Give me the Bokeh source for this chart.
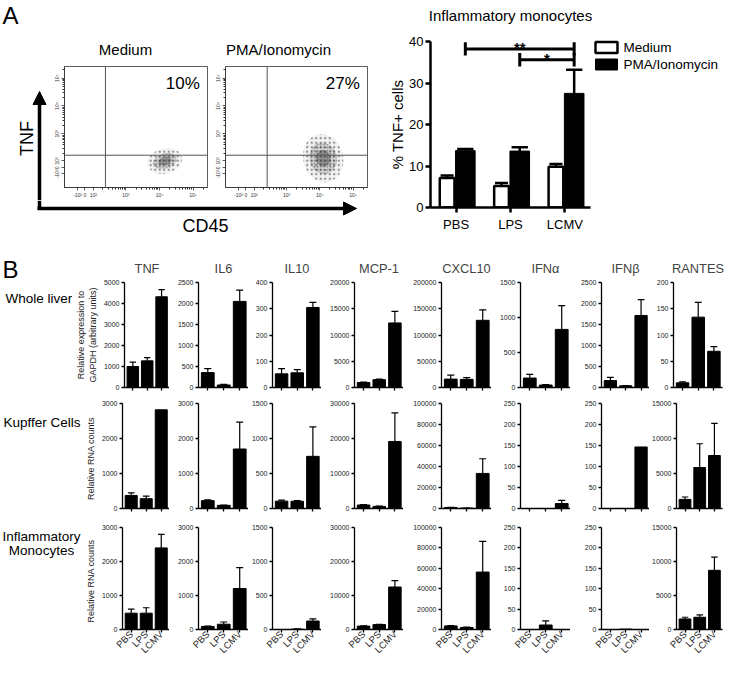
import math
from bokeh.plotting import figure
from bokeh.layouts import row, column
from bokeh.models import (Range1d, FixedTicker, Arrow, NormalHead, Span,
                          PrintfTickFormatter)
from bokeh.core.properties import value
from bokeh.embed import file_html
from bokeh.resources import INLINE

FONT = "Liberation Sans"
SX = 724 / 740
SY = 661 / 677


def X(v):
    return int(round(v * SX))


def Y(v):
    return int(round(v * SY))


# ------------------------------------------------------------------ data
groups = ["PBS", "LPS", "LCMV"]

# Panel A : % TNF+ inflammatory monocytes
a_title = "Inflammatory monocytes"
a_series = ["Medium", "PMA/Ionomycin"]
a_medium = [7.1, 5.2, 9.8]
a_medium_err = [7.7, 5.9, 10.5]
a_pma = [13.7, 13.6, 27.5]
a_pma_err = [14.1, 14.5, 33.2]
a_ticks = [0, 10, 20, 30, 40]

sig_text = ["**", "*"]
sig_from = [0, 1]
sig_to = [2, 2]
sig_level = [38.2, 35.6]

# Panel A : flow cytometry dot plots (display units, decades)
flow_titles = ["Medium", "PMA/Ionomycin"]
flow_pct = ["10%", "27%"]
flow_gate_x = [2.39, 2.42]
flow_gate_y = [2.23, 2.23]
flow_tick_pos = [1.56, 1.78, 2.03, 3, 4, 5]
flow_tick_labels = ["-10²", "0", "10²", "10³", "10⁴", "10⁵"]
cloud_x = [4.16, 4.10]
cloud_y = [2.02, 2.12]
cloud_w = [[1.05, 0.72, 0.40], [1.20, 0.82, 0.45]]
cloud_h = [[0.90, 0.55, 0.30], [1.75, 1.15, 0.60]]

# Panel B : cytokine expression
cytokines = ["TNF", "IL6", "IL10", "MCP-1", "CXCL10", "IFNα", "IFNβ", "RANTES"]
row_names = ["Whole liver", "Kupffer Cells", "Inflammatory Monocytes"]

liver_ymax = [5000, 2500, 400, 20000, 200000, 1500, 2500, 200]
liver_ystep = [1000, 500, 100, 5000, 50000, 500, 500, 50]
cells_ymax = [3000, 3000, 1500, 30000, 100000, 250, 250, 15000]
cells_ystep = [1000, 1000, 500, 10000, 20000, 50, 50, 5000]

liver_mean = [[1000, 1270, 4320], [355, 60, 2050], [52, 56, 305],
              [950, 1500, 12300], [16000, 15500, 128000], [135, 35, 830],
              [165, 40, 1715], [9, 134, 69]]
liver_err = [[1210, 1420, 4660], [450, 75, 2320], [72, 68, 324],
             [1050, 1600, 14500], [23500, 19000, 148000], [188, 40, 1170],
             [240, 45, 2090], [11, 162, 78]]

kupffer_mean = [[373, 280, 2820], [225, 90, 1700], [105, 103, 745],
                [1000, 600, 19150], [900, 400, 33400], [0, 0, 11.7],
                [0, 0, 146.5], [1300, 5850, 7570]]
kupffer_err = [[445, 355, None], [245, 100, 2470], [120, 113, 1165],
               [1100, 700, 27300], [1000, 500, 47400], [None, None, 19.4],
               [None, None, None], [1640, 9250, 12150]]

mono_mean = [[480, 480, 2400], [90, 155, 1205], [0, 5, 125],
             [1000, 1450, 12500], [3500, 2000, 56300], [0, 11, 0],
             [0, 1, 0], [1550, 1800, 8700]]
mono_err = [[600, 640, 2800], [100, 220, 1820], [None, 8, 155],
            [1100, 1550, 14400], [3800, 2300, 86300], [None, 21, None],
            [None, None, None], [1800, 2150, 10650]]

# ------------------------------------------------------------------ layout (reference px)
col_axis = [123, 202, 278, 362, 451, 532, 614, 688]
col_end = [173, 253, 328, 412, 502, 583, 663, 738]
row_top = [240, 404, 526]
row_ftop = [289, 413, 540]
row_fbot = [396, 520, 648]
row_bottom = [404, 526, 677]
label_w = [74, 84, 84]


def text_fig(left, right, top, bottom):
    w = X(right) - X(left)
    h = Y(bottom) - Y(top)
    p = figure(width=w, height=h, x_range=Range1d(0, w), y_range=Range1d(h, 0),
               x_axis_type=None, y_axis_type=None, min_border=0, title=None,
               frame_align=False, toolbar_location=None, output_backend="svg")
    p.grid.visible = False
    p.outline_line_color = None
    return p, (lambda xr: X(xr) - X(left)), (lambda yr: Y(yr) - Y(top))


def put_text(p, x, y, txt, size, align="left", baseline="middle", angle=0.0):
    p.text(x=[x], y=[y], text=[txt], text_font=value(FONT), text_font_size=size,
           text_align=align, text_baseline=baseline, angle=angle, text_color="black")


def style_axis(ax, lw, tick_out, size, color="black", label_color="#222"):
    ax.axis_line_width = lw
    ax.axis_line_color = color
    ax.major_tick_line_width = lw
    ax.major_tick_line_color = color
    ax.major_tick_out = tick_out
    ax.major_tick_in = 0
    ax.minor_tick_line_color = None
    ax.major_label_text_font = FONT
    ax.major_label_text_font_size = size
    ax.major_label_text_color = label_color
    ax.axis_label_text_font = FONT
    ax.axis_label_text_font_style = "normal"
    ax.axis_label_text_color = "#222"


# ------------------------------------------------------------------ panel A, left part
topfig, tx, ty = text_fig(0, 390, 0, 60)
put_text(topfig, tx(2), ty(1), "A", "24px", baseline="top")
put_text(topfig, tx(128), ty(50), flow_titles[0], "15px", align="center")
put_text(topfig, tx(284), ty(50), flow_titles[1], "15px", align="center")

leftfig, lx, ly = text_fig(0, 50, 60, 205)
put_text(leftfig, lx(27), ly(141), "TNF", "18px", align="center", angle=math.pi / 2)
leftfig.add_layout(Arrow(end=NormalHead(size=13, fill_color="black", line_color="black"),
                         x_start=lx(39.5), y_start=ly(206), x_end=lx(39.5), y_end=ly(93),
                         line_width=3.5, line_color="black"))

cdfig, cx, cy = text_fig(0, 390, 205, 240)
cdfig.segment(x0=[cx(39.5)], y0=[cy(205)], x1=[cx(39.5)], y1=[cy(214.5)],
              line_width=3.5, line_color="black")
cdfig.add_layout(Arrow(end=NormalHead(size=13, fill_color="black", line_color="black"),
                       x_start=cx(37.8), y_start=cy(212.8), x_end=cx(364), y_end=cy(212.8),
                       line_width=3.5, line_color="black"))
put_text(cdfig, cx(210), cy(230), "CD45", "18px", align="center")

flow_minor = [d + math.log10(k) for d in (2, 3, 4) for k in range(2, 10)] + [5.3]


def flow_fig(k, left, a_left, a_right, right):
    bl = X(a_left) - X(left)
    fw = X(a_right) - X(a_left)
    br = X(right) - X(a_right)
    bt = Y(68) - Y(60)
    fh = Y(192) - Y(68)
    bb = Y(205) - Y(192)
    p = figure(width=bl + fw + br, height=bt + fh + bb,
               x_range=Range1d(1.17, 5.43), y_range=Range1d(1.07, 5.42),
               min_border_left=bl, min_border_right=br, min_border_top=bt,
               min_border_bottom=bb, title=None, frame_align=False,
               toolbar_location=None, output_backend="svg")
    p.grid.visible = False
    p.outline_line_color = "#333"
    p.outline_line_width = 0.8
    alphas = [0.06, 0.14, 0.30]
    scales = [4.5, 3.2, 2.4]
    for j in range(3):
        p.ellipse(x=[cloud_x[k]], y=[cloud_y[k]], width=[cloud_w[k][j]],
                  height=[cloud_h[k][j]], angle=0.25, fill_color="#1a1a1a",
                  fill_alpha=alphas[j], line_color=None,
                  hatch_pattern="dot", hatch_scale=scales[j], hatch_weight=0.7,
                  hatch_color="#222", hatch_alpha=0.5)
    p.add_layout(Span(location=flow_gate_y[k], dimension="width",
                      line_color="#555", line_width=1))
    p.add_layout(Span(location=flow_gate_x[k], dimension="height",
                      line_color="#555", line_width=1))
    put_text(p, 5.2, 4.82, flow_pct[k], "17px", align="right")
    for ax in (p.xaxis[0], p.yaxis[0]):
        ax.ticker = FixedTicker(ticks=flow_tick_pos, minor_ticks=flow_minor)
        ax.major_label_overrides = {t: l for t, l in zip(flow_tick_pos, flow_tick_labels)}
        style_axis(ax, 0.8, 3, "5px", color="#333", label_color="#333")
        ax.minor_tick_line_color = "#333"
        ax.minor_tick_out = 2
        ax.minor_tick_in = 0
        ax.major_label_standoff = 1
    p.yaxis.major_label_orientation = "vertical"
    return p


flow1 = flow_fig(0, 50, 65, 212, 215)
flow2 = flow_fig(1, 215, 230, 375, 390)

# ------------------------------------------------------------------ panel A, bar chart
patitle, px_, py_ = text_fig(390, 606, 0, 30)
put_text(patitle, px_(521.5), py_(15), a_title, "15px", align="center")

pa = figure(width=X(606) - X(390), height=Y(240) - Y(30),
            x_range=Range1d(-0.47, 2.47), y_range=Range1d(0, 40),
            min_border_left=X(440) - X(390), min_border_right=X(606) - X(603),
            min_border_top=Y(42) - Y(30), min_border_bottom=Y(240) - Y(213),
            title=None, frame_align=False,
            toolbar_location=None, output_backend="svg")
pa.grid.visible = False
pa.outline_line_color = None

xm = [i - 0.165 for i in range(len(groups))]
xp = [i + 0.17 for i in range(len(groups))]
pa.vbar(x=xm, top=a_medium, width=0.27, fill_color="white",
        line_color="black", line_width=2.5)
pa.vbar(x=xp, top=a_pma, width=0.36, fill_color="black",
        line_color="black", line_width=1)
pa.segment(x0=xm, y0=a_medium, x1=xm, y1=a_medium_err, line_width=2.5, line_color="black")
pa.segment(x0=[x - 0.12 for x in xm], y0=a_medium_err, x1=[x + 0.12 for x in xm],
           y1=a_medium_err, line_width=2.5, line_color="black")
pa.segment(x0=xp, y0=a_pma, x1=xp, y1=a_pma_err, line_width=2.5, line_color="black")
pa.segment(x0=[x - 0.15 for x in xp], y0=a_pma_err, x1=[x + 0.15 for x in xp],
           y1=a_pma_err, line_width=2.5, line_color="black")

bx0 = [xp[i] for i in sig_from]
bx1 = [xp[i] for i in sig_to]
pa.segment(x0=bx0, y0=sig_level, x1=bx1, y1=sig_level, line_width=3, line_color="black")
pa.segment(x0=bx0, y0=[s - 1.6 for s in sig_level], x1=bx0, y1=[s + 1.6 for s in sig_level],
           line_width=3, line_color="black")
pa.segment(x0=bx1, y0=[s - 1.6 for s in sig_level], x1=bx1, y1=[s + 1.6 for s in sig_level],
           line_width=3, line_color="black")
pa.text(x=[(a + b) / 2 for a, b in zip(bx0, bx1)], y=[s + 0.4 for s in sig_level],
        text=sig_text, text_font=value(FONT), text_font_size="15px",
        text_font_style="bold", text_align="center", text_baseline="alphabetic",
        text_color="black")

for ax in (pa.xaxis[0], pa.yaxis[0]):
    style_axis(ax, 2.5, 5, "13px", label_color="black")
pa.yaxis.ticker = FixedTicker(ticks=a_ticks)
pa.xaxis.ticker = FixedTicker(ticks=[0, 1, 2])
pa.xaxis.major_label_overrides = {i: g for i, g in enumerate(groups)}
pa.xaxis.major_label_standoff = 4
pa.yaxis.major_label_standoff = 2
pa.yaxis.axis_label = "% TNF+ cells"
pa.yaxis.axis_label_text_font_size = "15px"
pa.yaxis.axis_label_standoff = 0
pa.yaxis.axis_label_text_color = "black"

# legend drawn as its own small panel
legfig, gx, gy = text_fig(606, 740, 0, 240)
legfig.rect(x=[gx(619), gx(619)], y=[gy(48.5), gy(65.5)], width=X(22), height=Y(11),
            fill_color=["white", "black"], line_color="black", line_width=[2.5, 1])
for k in range(2):
    put_text(legfig, gx(637), gy(48.5 + 17 * k), a_series[k], "13.5px")

bandA = row(column(topfig, row(leftfig, flow1, flow2), cdfig),
            column(patitle, pa), legfig)

# ------------------------------------------------------------------ panel B
means_all = [liver_mean, kupffer_mean, mono_mean]
errs_all = [liver_err, kupffer_err, mono_err]
ymax_all = [liver_ymax, cells_ymax, cells_ymax]
ystep_all = [liver_ystep, cells_ystep, cells_ystep]


def make_chart(r, ci, left, right):
    means = means_all[r][ci]
    errs = errs_all[r][ci]
    ymax = ymax_all[r][ci]
    ystep = ystep_all[r][ci]
    bl = X(col_axis[ci]) - X(left)
    fw = X(col_end[ci]) - X(col_axis[ci])
    br = X(right) - X(col_end[ci])
    bt = Y(row_ftop[r]) - Y(row_top[r])
    fh = Y(row_fbot[r]) - Y(row_ftop[r])
    bb = Y(row_bottom[r]) - Y(row_fbot[r])
    p = figure(width=bl + fw + br, height=bt + fh + bb,
               x_range=Range1d(-0.58, 2.55), y_range=Range1d(0, ymax),
               min_border_left=bl, min_border_right=br,
               min_border_top=bt, min_border_bottom=bb,
               title=cytokines[ci] if r == 0 else None, frame_align=False,
               toolbar_location=None, output_backend="svg")
    if r == 0:
        p.title.align = "center"
        p.title.text_font = FONT
        p.title.text_font_size = "12.8px"
        p.title.text_font_style = "normal"
        p.title.standoff = 14
    p.grid.visible = False
    p.outline_line_color = None
    xs = list(range(len(groups)))
    p.vbar(x=xs, top=means, width=0.8, fill_color="black", line_color="black", line_width=1)
    ex = [x for x, e in zip(xs, errs) if e is not None]
    em = [m for m, e in zip(means, errs) if e is not None]
    ee = [e for e in errs if e is not None]
    p.segment(x0=ex, y0=em, x1=ex, y1=ee, line_color="black", line_width=1.2)
    p.segment(x0=[x - 0.22 for x in ex], y0=ee, x1=[x + 0.22 for x in ex], y1=ee,
              line_color="black", line_width=1.2)
    for ax in (p.xaxis[0], p.yaxis[0]):
        style_axis(ax, 1.3, 3, "7px")
    p.yaxis.ticker = FixedTicker(ticks=list(range(0, ymax + 1, ystep)))
    p.yaxis.formatter = PrintfTickFormatter(format="%d")
    p.yaxis.major_label_standoff = 2
    p.xaxis.ticker = FixedTicker(ticks=xs)
    if r == 2:
        p.xaxis.major_label_overrides = {i: g for i, g in enumerate(groups)}
        p.xaxis.major_label_orientation = math.pi / 4
        p.xaxis.major_label_text_font_size = "9.5px"
        p.xaxis.major_label_standoff = 0
    else:
        p.xaxis.major_label_overrides = {i: "" for i in xs}
        p.xaxis.major_label_text_font_size = "0px"
        p.xaxis.major_label_standoff = 0
    if ci == 0:
        if r == 0:
            p.yaxis.axis_label = "Relative expression to\nGAPDH (arbitrary units)"
        else:
            p.yaxis.axis_label = "Relative   RNA counts"
        p.yaxis.axis_label_text_font_size = "9px"
        p.yaxis.axis_label_standoff = 3
    return p


rows_B = []
for r in range(3):
    lf, fx, fy = text_fig(0, label_w[r], row_top[r], row_bottom[r])
    if r == 0:
        put_text(lf, fx(2), fy(275), "B", "24px")
        put_text(lf, fx(5), fy(305), "Whole liver", "13.5px")
    elif r == 1:
        put_text(lf, fx(3), fy(432), "Kupffer Cells", "13.5px")
    else:
        put_text(lf, fx(42), fy(549), "Inflammatory", "13.5px", align="center")
        put_text(lf, fx(42), fy(563), "Monocytes", "13.5px", align="center")
    charts = []
    left = label_w[r]
    for ci in range(len(cytokines)):
        right = col_end[ci] if ci < len(cytokines) - 1 else 740
        charts.append(make_chart(r, ci, left, right))
        left = col_end[ci]
    rows_B.append(row(lf, *charts))

layout = column(bandA, *rows_B)

open("out.html", "w").write(file_html(layout, INLINE))
